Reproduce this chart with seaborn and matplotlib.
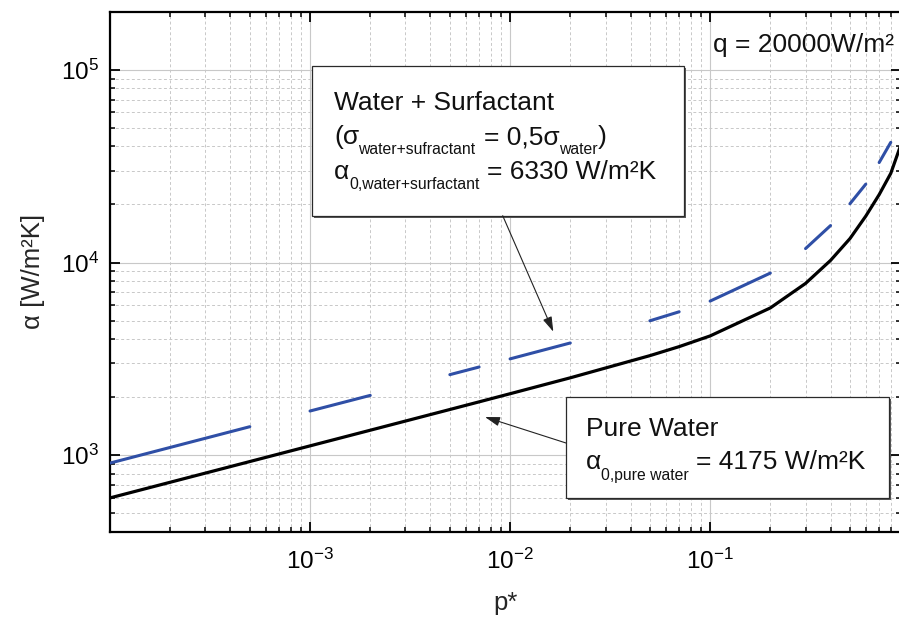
import numpy as np
import pandas as pd
import matplotlib
matplotlib.use("Agg")
import matplotlib.pyplot as plt
import seaborn as sns
from matplotlib.patches import Rectangle, FancyArrowPatch
from matplotlib.ticker import FixedLocator, LogLocator, NullFormatter, FuncFormatter

# ---------------- data ----------------
p_star = [1e-4, 5e-4, 1e-3, 2e-3, 5e-3, 7e-3, 1e-2, 2e-2, 5e-2, 7e-2,
          0.1, 0.2, 0.3, 0.4, 0.5, 0.6, 0.7, 0.8, 0.9]
alpha_pure_water = [601, 928, 1119, 1349, 1728, 1893, 2086, 2523, 3288, 3661,
                    4160, 5813, 7790, 10255, 13303, 17400, 22500, 29000, 41000]
alpha_water_surfactant = [911, 1407, 1697, 2045, 2620, 2870, 3163, 3825, 4985, 5551,
                          6307, 8814, 11811, 15549, 20170, 25500, 33000, 42000, 60000]
x_tick_values = [1e-3, 1e-2, 1e-1]
y_tick_values = [1e3, 1e4, 1e5]

# ---------------- style ----------------
sns.set_style("ticks")
plt.rcParams['font.family'] = ['Liberation Sans', 'DejaVu Sans']
plt.rcParams['mathtext.fontset'] = 'custom'
plt.rcParams['mathtext.rm'] = 'Liberation Sans'
plt.rcParams['mathtext.it'] = 'Liberation Sans:italic'
plt.rcParams['mathtext.bf'] = 'Liberation Sans:bold'

W, H = 899, 618
fig = plt.figure(figsize=(W / 100, H / 100), dpi=100)
ax_l, ax_r, ax_t, ax_b = 110, 901, 11.7, 532
ax = fig.add_axes([ax_l / W, (H - ax_b) / H, (ax_r - ax_l) / W, (ax_b - ax_t) / H])
ax.set_xscale('log')
ax.set_yscale('log')

BLUE = '#2f4fa6'

# pure water: continuous black line
df_pw = pd.DataFrame({'p': p_star, 'a': alpha_pure_water})
sns.lineplot(data=df_pw, x='p', y='a', color='black', lw=2.3,
             estimator=None, ax=ax, legend=False, zorder=3)

# water + surfactant: drawn as alternate segments (long-dash appearance)
df_ws = pd.DataFrame({'p': p_star, 'a': alpha_water_surfactant,
                      'seg': np.arange(len(p_star)) // 2})
sns.lineplot(data=df_ws, x='p', y='a', units='seg', color=BLUE, lw=2.2,
             estimator=None, ax=ax, legend=False, zorder=3)

ax.set_xlim(1e-4, 0.9)
ax.set_ylim(400, 2e5)

# ticks / grid
ax.xaxis.set_major_locator(FixedLocator(x_tick_values))
ax.yaxis.set_major_locator(FixedLocator(y_tick_values))
ax.xaxis.set_minor_locator(LogLocator(base=10, subs=np.arange(2, 10), numticks=20))
ax.yaxis.set_minor_locator(LogLocator(base=10, subs=np.arange(2, 10), numticks=20))
ax.xaxis.set_minor_formatter(NullFormatter())
ax.yaxis.set_minor_formatter(NullFormatter())
fmt = FuncFormatter(lambda v, pos: r'$\mathregular{10^{%d}}$' % int(round(np.log10(v))))
ax.xaxis.set_major_formatter(fmt)
ax.yaxis.set_major_formatter(fmt)

ax.set_axisbelow(True)
ax.grid(which='major', color='#c8c8c8', lw=0.8, ls='-')
ax.grid(which='minor', color='#c8c8c8', lw=0.7, ls=(0, (3, 2.5)))
# gridline at left edge decade
ax.axvline(1e-4, color='#c8c8c8', lw=0.8, zorder=0)

ax.tick_params(which='both', direction='in', top=True, right=True,
               labelsize=17.5, colors='black')
ax.tick_params(which='major', length=7.5, width=1.3, pad=12)
ax.tick_params(axis='y', which='major', pad=8)
ax.tick_params(which='minor', length=3.8, width=1.1)
for s in ax.spines.values():
    s.set_linewidth(1.6)
    s.set_color('black')

ax.set_xlabel('p*', fontsize=18.5, va='center')
ax.xaxis.set_label_coords(0.5, -(603 - ax_b) / (ax_b - ax_t))
ax.set_ylabel('α [W/m²K]', fontsize=18.5, va='center')
ax.yaxis.set_label_coords((33 - ax_l) / (ax_r - ax_l), 0.5)


# ---------------- annotations (figure pixel layout) ----------------
def fx(x):
    return x / W


def fy(y):
    return 1 - y / H


def box(x0, y0, x1, y1):
    sh = Rectangle((fx(x0 + 2), fy(y1 + 2)), (x1 - x0) / W, (y1 - y0) / H,
                   transform=fig.transFigure, facecolor='#5a5a5a', edgecolor='none', zorder=5)
    bx = Rectangle((fx(x0), fy(y1)), (x1 - x0) / W, (y1 - y0) / H,
                   transform=fig.transFigure, facecolor='white', edgecolor='#2a2a2a',
                   lw=0.9, zorder=6)
    fig.add_artist(sh)
    fig.add_artist(bx)


def txt(x, y, s, size=19):
    fig.text(fx(x), fy(y), s, fontsize=size, ha='left', va='baseline', zorder=8, color='#111111')


def arrow(xa, ya, xb, yb):
    ar = FancyArrowPatch((fx(xa), fy(ya)), (fx(xb), fy(yb)), transform=fig.transFigure,
                         arrowstyle='-|>,head_length=0.9,head_width=0.28', mutation_scale=10,
                         color='#222222', lw=0.8, shrinkA=0, shrinkB=0, zorder=7)
    fig.add_artist(ar)


MAIN, SUB = 19, 11.3

# box 1 : water + surfactant
box(311.7, 65.7, 684.3, 215.7)
txt(334, 110, 'Water + Surfactant', MAIN)
txt(334, 144.3, '(σ', MAIN)
txt(358, 154.3, 'water+sufractant', SUB)
txt(484, 144.3, '= 0,5σ', MAIN)
txt(559.5, 154.3, 'water', SUB)
txt(597.5, 144.3, ')', MAIN)
txt(334, 179.3, 'α', MAIN)
txt(349.5, 189.3, '0,water+surfactant', SUB)
txt(487, 179.3, '= 6330 W/m²K', MAIN)
arrow(502.7, 215.7, 553.3, 331.7)

# box 2 : pure water
box(566, 397.3, 889, 498)
txt(586, 436, 'Pure Water', MAIN)
txt(586, 469.3, 'α', MAIN)
txt(601, 480, '0,pure water', SUB)
txt(695.5, 469.3, '= 4175 W/m²K', MAIN)
arrow(566, 443, 485, 417)

# heat flux label
txt(713, 51.7, 'q = 20000W/m²', MAIN)

fig.savefig('out.png', dpi=100)
